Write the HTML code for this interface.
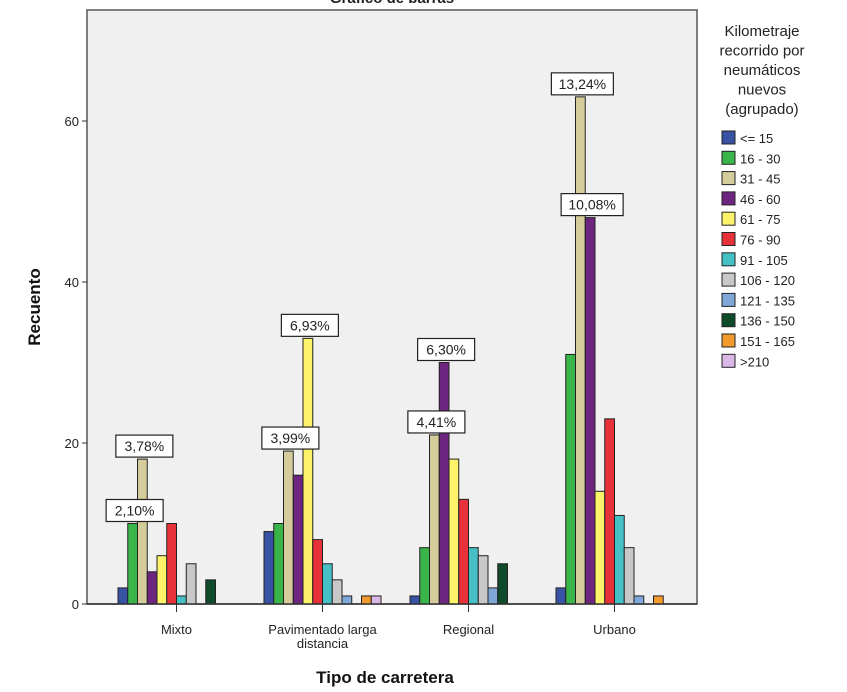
<!DOCTYPE html>
<html><head><meta charset="utf-8"><style>
body{margin:0;background:#fff;font-family:"Liberation Sans",sans-serif;}
</style></head><body>
<svg id="chart" width="847" height="687" xmlns="http://www.w3.org/2000/svg" font-family="Liberation Sans, sans-serif"></svg>
<script>
const categories=["Mixto","Pavimentado larga|distancia","Regional","Urbano"];
const seriesNames=["<= 15","16 - 30","31 - 45","46 - 60","61 - 75","76 - 90","91 - 105","106 - 120","121 - 135","136 - 150","151 - 165",">210"];
const seriesColors=["#3953a4","#3ab54a","#d4cc9a","#6e2580","#fdf36b","#e8323a","#45c0c4","#c8c8c8","#7fa8d8","#0f4a2a","#f29b2c","#d9b8e8"];
const mixtoValues=[2,10,18,4,6,10,1,5,0,3,0,0];
const pavimentadoValues=[9,10,19,16,33,8,5,3,1,0,1,1];
const regionalValues=[1,7,21,30,18,13,7,6,2,5,0,0];
const urbanoValues=[2,31,63,48,14,23,11,7,1,0,1,0];
const yTicks=[0,20,40,60];
const pctLabels=[[0,1,"2,10%"],[0,2,"3,78%"],[1,2,"3,99%"],[1,4,"6,93%"],[2,2,"4,41%"],[2,3,"6,30%"],[3,2,"13,24%"],[3,3,"10,08%"]];
const values=[mixtoValues,pavimentadoValues,regionalValues,urbanoValues];

const svg=document.getElementById('chart');
const NS="http://www.w3.org/2000/svg";
function mk(t,a,p){const e=document.createElementNS(NS,t);for(const k in a)e.setAttribute(k,a[k]);(p||svg).appendChild(e);return e;}
const L=87,R=697,T=10,B=604,pxPer=8.05;
const y=v=>B-v*pxPer;
const bw=9.75,groupW=bw*12,groupStart=118,groupStep=146;
const x=(g,s)=>groupStart+g*groupStep+s*bw;

const title=mk('text',{x:392,y:3,'text-anchor':'middle','font-size':15,'font-weight':'bold',fill:'#222'});
title.textContent='Gráfico de barras';
const plot=mk('rect',{x:L,y:T,width:R-L,height:B-T,fill:'#f0f0f0',stroke:'#555','stroke-width':1.5});


yTicks.forEach(v=>{
 const tl=mk('line',{x1:L-5,x2:L,y1:y(v),y2:y(v),stroke:'#333'});
 
 const t=mk('text',{x:L-8,y:y(v)+5,'text-anchor':'end','font-size':13,fill:'#222'});
 t.textContent=v;
});
values.forEach((vals,g)=>{
 vals.forEach((v,s)=>{
  if(v<=0)return;
  const r=mk('rect',{x:x(g,s),y:y(v),width:bw,height:v*pxPer,fill:seriesColors[s],stroke:'#222','stroke-width':1});
  
 });
 const cx=groupStart+g*groupStep+groupW/2;
 const tk=mk('line',{x1:cx,x2:cx,y1:B,y2:B+8,stroke:'#333'});
 
 const lines=categories[g].split('|');
 lines.forEach((ln,i)=>{
  const t=mk('text',{x:cx,y:B+30+i*14,'text-anchor':'middle','font-size':13,fill:'#222'});
  t.textContent=ln;
 });
});
const axisLine=mk('line',{x1:L,x2:R,y1:B,y2:B,stroke:'#333','stroke-width':1.5});

pctLabels.forEach(([g,s,txt])=>{
 const v=values[g][s];const cx=x(g,s)+bw/2+2;const w=txt.length>5?62:57;
 const gEl=mk('g',{});
 
 mk('rect',{x:cx-w/2,y:y(v)-24,width:w,height:22,fill:'#fff',stroke:'#222','stroke-width':1.2},gEl);
 const t=mk('text',{x:cx,y:y(v)-8,'text-anchor':'middle','font-size':14,fill:'#222'},gEl);t.textContent=txt;
});
const yt=mk('text',{x:0,y:0,transform:'translate(40,307) rotate(-90)','text-anchor':'middle','font-size':17,'font-weight':'bold',fill:'#111'});
yt.textContent='Recuento';
const xt=mk('text',{x:385,y:683,'text-anchor':'middle','font-size':17,'font-weight':'bold',fill:'#111'});
xt.textContent='Tipo de carretera';
const lt=["Kilometraje","recorrido por","neumáticos","nuevos","(agrupado)"];
lt.forEach((s,i)=>{
 const t=mk('text',{x:762,y:36+i*19.5,'text-anchor':'middle','font-size':15,fill:'#222'});
 t.textContent=s;
});
seriesNames.forEach((n,i)=>{
 const g=mk('g',{});
 
 mk('rect',{x:722,y:131+i*20.3,width:13,height:13,fill:seriesColors[i],stroke:'#222'},g);
 const t=mk('text',{x:740,y:143+i*20.3,'font-size':13,fill:'#222'},g);t.textContent=n;
});
</script>
</body></html>
